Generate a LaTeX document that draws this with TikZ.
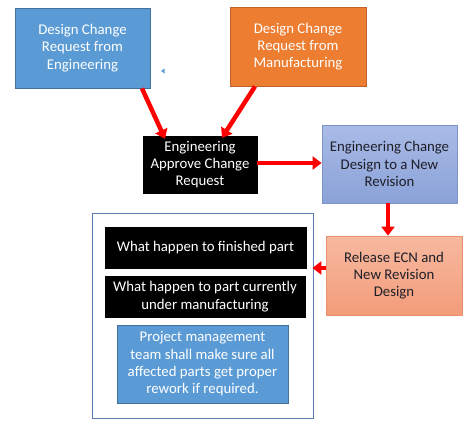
\documentclass[tikz,border=0pt]{standalone}
\usepackage{fontspec}
\setmainfont{Carlito}
\usetikzlibrary{arrows.meta,calc}
\definecolor{eblue}{HTML}{5B9BD5}
\definecolor{eblueb}{HTML}{41719C}
\definecolor{eorange}{HTML}{ED7D31}
\definecolor{eorangeb}{HTML}{C0622A}
\definecolor{lavtop}{HTML}{AABBE6}
\definecolor{lavbot}{HTML}{8AA2D8}
\definecolor{lavb}{HTML}{7E93C9}
\definecolor{saltop}{HTML}{F7B9A0}
\definecolor{salbot}{HTML}{F39C7A}
\definecolor{salb}{HTML}{E8916C}
\definecolor{framec}{HTML}{5A7DB3}
\definecolor{arrred}{HTML}{FF0000}
\definecolor{darktxt}{HTML}{1E1E28}
\tikzset{
  box/.style={rectangle, inner sep=2pt, align=center, font=\fontsize{14.8}{17.3}\selectfont},
  bluebox/.style={box, fill=eblue, draw=eblueb, line width=0.8pt, text=white},
  orangebox/.style={box, fill=eorange, draw=eorangeb, line width=0.8pt, text=white},
  blackbox/.style={box, fill=black, draw=black, text=white},
  lavbox/.style={box, top color=lavtop, bottom color=lavbot, draw=lavb, line width=0.8pt, text=darktxt},
  salbox/.style={box, top color=saltop, bottom color=salbot, draw=salb, line width=0.8pt, text=darktxt},
  redarrow/.style={draw=arrred, line width=4.5pt, -{Triangle[length=9pt,width=13pt]}, shorten <=0pt},
}
\begin{document}
\begin{tikzpicture}[x=1pt,y=-1pt]
\useasboundingbox (0,0) rectangle (474,437);
% top boxes
\node[bluebox, minimum width=135pt, minimum height=80pt] (b1) at (82.5,48) {Design Change\\Request from\\Engineering};
\node[orangebox, minimum width=136pt, minimum height=79pt] (b2) at (298,46.5) {Design Change\\Request from\\Manufacturing};
\node[blackbox, minimum width=114pt, minimum height=57pt] (b3) at (200,164.5) {Engineering\\Approve Change\\Request};
\node[lavbox, minimum width=135pt, minimum height=78pt] (b4) at (389.5,164) {Engineering Change\\Design to a New\\Revision};
\node[salbox, minimum width=136pt, minimum height=79pt] (rel) at (394,275.5) {Release ECN and\\New Revision\\Design};
% frame
\node[draw=framec, line width=0.8pt, minimum width=221pt, minimum height=205pt, inner sep=0pt] (frame) at (202.5,315.5) {};
\node[blackbox, minimum width=201pt, minimum height=41pt] (qa) at (205.5,247.5) {What happen to finished part};
\node[blackbox, minimum width=200pt, minimum height=41pt] (qb) at (205,296.5) {What happen to part currently\\under manufacturing};
\node[bluebox, minimum width=171pt, minimum height=78pt] (pm) at (202.5,364) {Project management\\team shall make sure all\\affected parts get proper\\rework if required.};
% tiny mark
\fill[eblue] (161,71) -- (164.5,68.5) -- (164.5,73.5) -- cycle;
% arrows
\draw[redarrow] ([xshift=59.5pt]b1.south) -- ([xshift=-35pt,yshift=-3pt]b3.north);
\draw[redarrow] ([xshift=-43pt]b2.south) -- ([xshift=22pt,yshift=-2pt]b3.north);
\draw[redarrow] ([yshift=1.5pt]b3.east) -- ([yshift=1.5pt]b3.east -| b4.west);
\draw[redarrow] ([xshift=-1.5pt]b4.south) -- ([xshift=-1.5pt]b4.south |- rel.north);
\draw[redarrow] ([yshift=7.5pt]rel.west) -- ([yshift=7.5pt,xshift=-1pt]rel.west -| frame.east);
\end{tikzpicture}
\end{document}
